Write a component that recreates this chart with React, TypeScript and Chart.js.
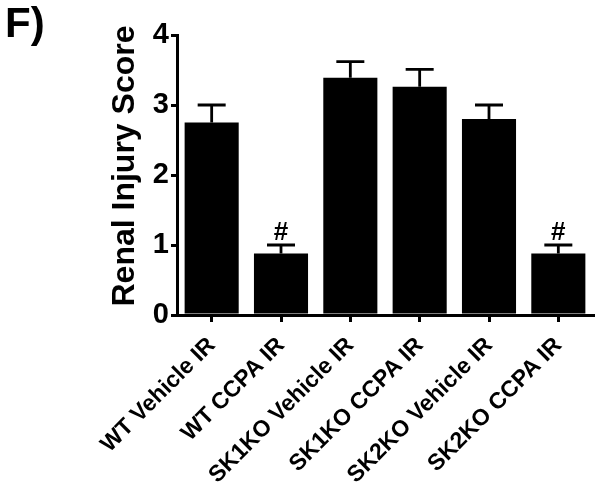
import React, { useEffect, useRef } from "react";
import { Chart, registerables } from "chart.js";

Chart.register(...registerables);

const categories = [
  "WT Vehicle IR",
  "WT CCPA IR",
  "SK1KO Vehicle IR",
  "SK1KO CCPA IR",
  "SK2KO Vehicle IR",
  "SK2KO CCPA IR",
];
const means = [2.75, 0.88, 3.39, 3.26, 2.8, 0.88];
const errors = [0.25, 0.12, 0.23, 0.25, 0.2, 0.12];
const marks = ["", "#", "", "", "", "#"];
const yTicks = [0, 1, 2, 3, 4];
const yTitle = "Renal Injury Score";

const FONT = "'Liberation Sans', Arial, sans-serif";

const errorBarPlugin = {
  id: "errorBars",
  afterDatasetsDraw(chart: any) {
    const ctx = chart.ctx;
    const meta = chart.getDatasetMeta(0);
    const y = chart.scales.y;
    ctx.save();
    ctx.strokeStyle = "#000";
    ctx.lineWidth = 2.8;
    meta.data.forEach((bar: any, i: number) => {
      const x = bar.x;
      const y0 = y.getPixelForValue(means[i]);
      const y1 = y.getPixelForValue(means[i] + errors[i]);
      ctx.beginPath();
      ctx.moveTo(x, y0);
      ctx.lineTo(x, y1);
      ctx.moveTo(x - 14, y1);
      ctx.lineTo(x + 14, y1);
      ctx.stroke();
      if (marks[i]) {
        ctx.fillStyle = "#000";
        ctx.font = `bold 26px ${FONT}`;
        ctx.textAlign = "center";
        ctx.textBaseline = "alphabetic";
        ctx.fillText(marks[i], x, y1 - 5);
      }
    });
    ctx.restore();
  },
};

const labelPlugin = {
  id: "panelLabel",
  afterDraw(chart: any) {
    const ctx = chart.ctx;
    ctx.save();
    ctx.fillStyle = "#000";
    ctx.font = `bold 42px ${FONT}`;
    ctx.textAlign = "left";
    ctx.textBaseline = "alphabetic";
    ctx.fillText("F)", 5, 37);
    // y axis title
    ctx.font = `bold 32px ${FONT}`;
    ctx.textAlign = "center";
    ctx.textBaseline = "middle";
    ctx.translate(125, 166);
    ctx.rotate(-Math.PI / 2);
    ctx.fillText(yTitle, 0, 0);
    ctx.restore();
  },
};

export default function App() {
  const ref = useRef<HTMLCanvasElement | null>(null);
  useEffect(() => {
    if (!ref.current) return;
    const chart = new Chart(ref.current, {
      type: "bar",
      data: {
        labels: categories,
        datasets: [
          {
            data: means,
            backgroundColor: "#000",
            borderWidth: 0,
            barPercentage: 0.78,
            categoryPercentage: 1,
          },
        ],
      },
      options: {
        animation: false,
        responsive: false,
        maintainAspectRatio: false,
        layout: { padding: { left: 104, right: 8, top: 35, bottom: 0 } },
        plugins: { legend: { display: false }, tooltip: { enabled: false } },
        scales: {
          x: {
            offset: true,
            border: { display: true, width: 3, color: "#000" },
            grid: {
              display: true,
              offset: false,
              drawOnChartArea: false,
              drawTicks: true,
              tickLength: 7,
              lineWidth: 3,
              color: "#000",
            },
            ticks: {
              color: "#000",
              font: { family: FONT, weight: "bold", size: 23 },
              maxRotation: 45,
              minRotation: 45,
              autoSkip: false,
              padding: 10,
            },
            afterFit(scale: any) {
              scale.height = 170;
            },
          },
          y: {
            min: 0,
            max: 4,
            afterBuildTicks(scale: any) {
              scale.ticks = yTicks.map((v) => ({ value: v }));
            },
            border: { display: true, width: 3, color: "#000" },
            grid: {
              display: true,
              drawOnChartArea: false,
              drawTicks: true,
              tickLength: 6,
              lineWidth: 3,
              color: "#000",
            },
            ticks: {
              color: "#000",
              font: { family: FONT, weight: "bold", size: 29 },
              padding: 2,
            },
            title: { display: false },
            afterFit(scale: any) {
              scale.width = 177 - 104;
            },
          },
        },
      },
      plugins: [errorBarPlugin, labelPlugin],
    });
    return () => chart.destroy();
  }, []);
  return (
    <div style={{ position: "absolute", left: 0, top: 0, width: 601, height: 485, background: "#fff" }}>
      <canvas ref={ref} width={601} height={485} style={{ width: 601, height: 485 }} />
    </div>
  );
}
